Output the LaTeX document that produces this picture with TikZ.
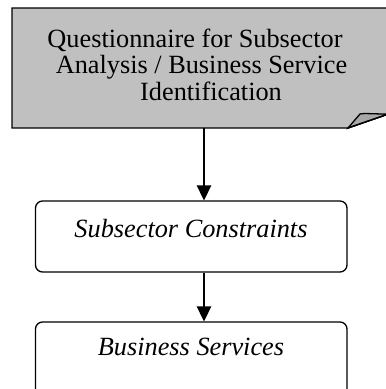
\documentclass[tikz,border=0pt]{standalone}
\usepackage{fontspec}
\setmainfont{Liberation Serif}
\usetikzlibrary{arrows.meta}
\definecolor{notegray}{HTML}{C0C0C0}
\tikzset{
  flowbox/.style={draw=black, line width=1.3pt, rounded corners=7pt,
    minimum width=311.5pt, minimum height=71pt, inner sep=0pt},
  flowtext/.style={anchor=base, inner sep=0pt, font=\fontsize{26.3}{26.5}\selectfont},
  flowarrow/.style={line width=1.3pt, -{Triangle[length=15pt,width=14.5pt]}},
  noteline/.style={draw=black, line width=1.3pt, line join=miter}
}
\begin{document}
\begin{tikzpicture}[x=1pt,y=-1pt]
\useasboundingbox (0,0) rectangle (386,389);
% document note with folded corner
\node[anchor=north west, minimum width=380pt, minimum height=120pt, inner sep=0pt] (q) at (12,8) {};
\path[noteline, fill=notegray] (12,128) -- (12,8) -- (400,8) -- (400,110) -- (348,128) -- cycle;
\path[noteline, fill=notegray!85!black!95] (348,128) -- (360,114) .. controls (363,113) and (375,114) .. (400,114.5) -- (400,110) -- cycle;
\draw[line width=1.3pt] (348,128) -- (400,110);
\node[flowtext] (q1) at (195,47) {Questionnaire for Subsector};
\node[flowtext] (q2) at (201.5,73.5) {Analysis / Business Service};
\node[flowtext] (q3) at (211,100) {Identification};
% process boxes
\node[flowbox] (b) at (191.25,236.5) {};
\node[flowtext] (bt) at (191,237) {\itshape Subsector Constraints};
\node[flowbox, minimum height=76pt] (c) at (191.25,360) {};
\node[flowtext] (ct) at (191,355) {\itshape Business Services};
% connectors
\coordinate (ax) at (204,0);
\draw[flowarrow] (q.south -| ax) -- (b.north -| ax);
\draw[flowarrow] (b.south -| ax) -- (c.north -| ax);
\end{tikzpicture}
\end{document}
